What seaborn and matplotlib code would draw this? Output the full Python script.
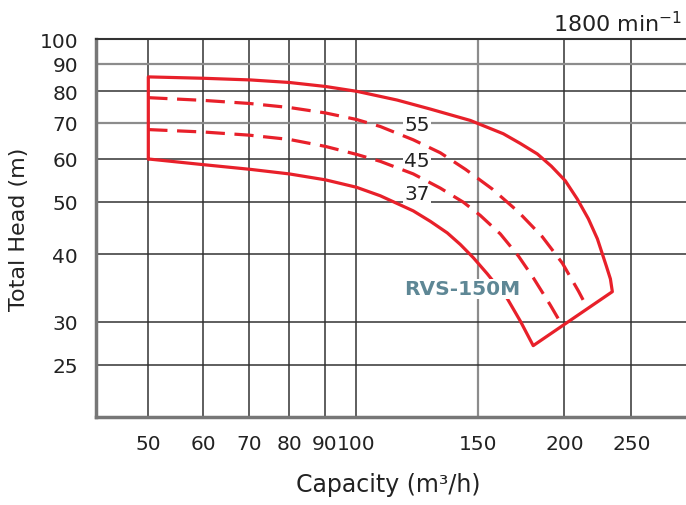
import pandas as pd
import seaborn as sns
import matplotlib.pyplot as plt
from matplotlib.ticker import FixedLocator, NullLocator, FixedFormatter

# -------------------------------
# Dados (Q em m3/h, H em m)
# -------------------------------
upper_q = [50, 60.1, 70.3, 80, 90.2, 100.3, 114.6, 128, 146.2, 163.2, 172.7, 182.8, 191.5, 200.6, 208.8, 216.7, 223.3, 230.1, 233.2, 234.7]
upper_h = [85.1, 84.6, 84.0, 83.1, 81.7, 80.0, 77.1, 74.2, 70.7, 66.8, 64.1, 61.3, 58.2, 54.7, 50.6, 46.5, 42.7, 38.0, 36.0, 34.1]

lower_q = [50, 59.8, 70.3, 80, 90.2, 100, 108.3, 120.9, 128.0, 135.4, 141.4, 147.7, 154.7, 165.4, 172.7, 180.3]
lower_h = [60.0, 58.6, 57.4, 56.3, 54.9, 53.2, 51.3, 48.1, 46.0, 43.8, 41.7, 39.4, 36.8, 33.1, 30.1, 27.1]

d55_q = [50, 60.1, 70, 80, 90.2, 100, 108.3, 120.9, 132.3, 143.9, 157.3, 171.6, 185.8, 198.7, 209.6, 216]
d55_h = [77.9, 77.0, 76.0, 74.7, 73.0, 71.0, 68.9, 65.1, 61.6, 57.4, 52.8, 47.9, 43.1, 38.5, 34.2, 31.8]

d45_q = [50, 60.1, 70, 80, 90.2, 100, 108.3, 120.9, 132.3, 142.9, 151.1, 161.6, 171.6, 180.3, 190.9, 198.7]
d45_h = [68.0, 67.3, 66.4, 65.2, 63.3, 61.2, 59.4, 56.3, 53.0, 49.9, 47.2, 43.6, 39.7, 36.2, 32.2, 29.5]

kw_labels = ['55', '45', '37']
kw_q = [122.5, 122.5, 122.5]
kw_h = [69.6, 59.6, 51.7]

x_ticks = [50, 60, 70, 80, 90, 100, 150, 200, 250]
y_ticks = [25, 30, 40, 50, 60, 70, 80, 90, 100]

# contorno fechado: borda esquerda + curva superior + borda inferior + curva inferior
outline = pd.DataFrame({
    'Q': [lower_q[0]] + upper_q + lower_q[::-1],
    'H': [lower_h[0]] + upper_h + lower_h[::-1],
})
dash55 = pd.DataFrame({'Q': d55_q, 'H': d55_h})
dash45 = pd.DataFrame({'Q': d45_q, 'H': d45_h})

sns.set_style('white')
plt.rcParams['font.family'] = ['DejaVu Sans']

red = '#e8202a'
txt = '#222222'
fig = plt.figure(figsize=(6.86, 5.06), dpi=100)
ax = fig.add_axes([96/686, 88/506, 590/686, 378/506])
ax.set_xscale('log')
ax.set_yscale('log')

sns.lineplot(data=outline, x='Q', y='H', sort=False, estimator=None,
             color=red, linewidth=2.3, ax=ax, zorder=4)
for d in [dash55, dash45]:
    sns.lineplot(data=d, x='Q', y='H', sort=False, estimator=None,
                 color=red, linewidth=2.3, linestyle=(0, (6.0, 3.0)), ax=ax, zorder=4)

for lab, q, h in zip(kw_labels, kw_q, kw_h):
    ax.text(q, h, lab, ha='center', va='center', fontsize=14.5, color=txt, zorder=3,
            bbox=dict(facecolor='white', edgecolor='none', pad=1))

ax.text(142.4, 34.5, 'RVS-150M', ha='center', va='center', fontsize=14.5, fontweight='bold',
        color='#5e8795', zorder=5, bbox=dict(facecolor='white', edgecolor='none', pad=0.5))

ax.set_xlim(42, 300)
ax.set_ylim(20, 100)
ax.xaxis.set_major_locator(FixedLocator(x_ticks))
ax.xaxis.set_major_formatter(FixedFormatter([str(t) for t in x_ticks]))
ax.xaxis.set_minor_locator(NullLocator())
ax.yaxis.set_major_locator(FixedLocator(y_ticks))
ax.yaxis.set_major_formatter(FixedFormatter([str(t) for t in y_ticks]))
ax.yaxis.set_minor_locator(NullLocator())

ax.grid(True, which='major', color='#333333', linewidth=1.1)
ax.set_axisbelow(True)
# algumas linhas de grade aparecem mais claras no original
for t, gl in zip(y_ticks, ax.get_ygridlines()):
    if t in (90, 70):
        gl.set_color('#8c8c8c')
        gl.set_linewidth(1.6)
for t, gl in zip(x_ticks, ax.get_xgridlines()):
    if t == 150:
        gl.set_color('#8c8c8c')
        gl.set_linewidth(1.6)

ax.tick_params(axis='x', length=0, pad=12, labelsize=14.5, colors=txt)
ax.tick_params(axis='y', length=0, pad=13, labelsize=14.5, colors=txt)

for s in ['left', 'bottom']:
    ax.spines[s].set_color('#777777')
    ax.spines[s].set_linewidth(2.5)
ax.spines['top'].set_color('#333333')
ax.spines['top'].set_linewidth(1.5)
ax.spines['right'].set_visible(False)

ax.set_xlabel('Capacity (m³/h)', fontsize=17, color=txt)
ax.set_ylabel('Total Head (m)', fontsize=16, color=txt)
ax.xaxis.set_label_coords((388 - 96) / 590, -(473 - 418) / 378)
ax.yaxis.set_label_coords(-(96 - 29) / 590, 0.5)

fig.text(0.995, 1 - 32/506, '1800 min$^{-1}$', ha='right', va='baseline',
         fontsize=16, color=txt)

fig.savefig('out.png', dpi=100)
